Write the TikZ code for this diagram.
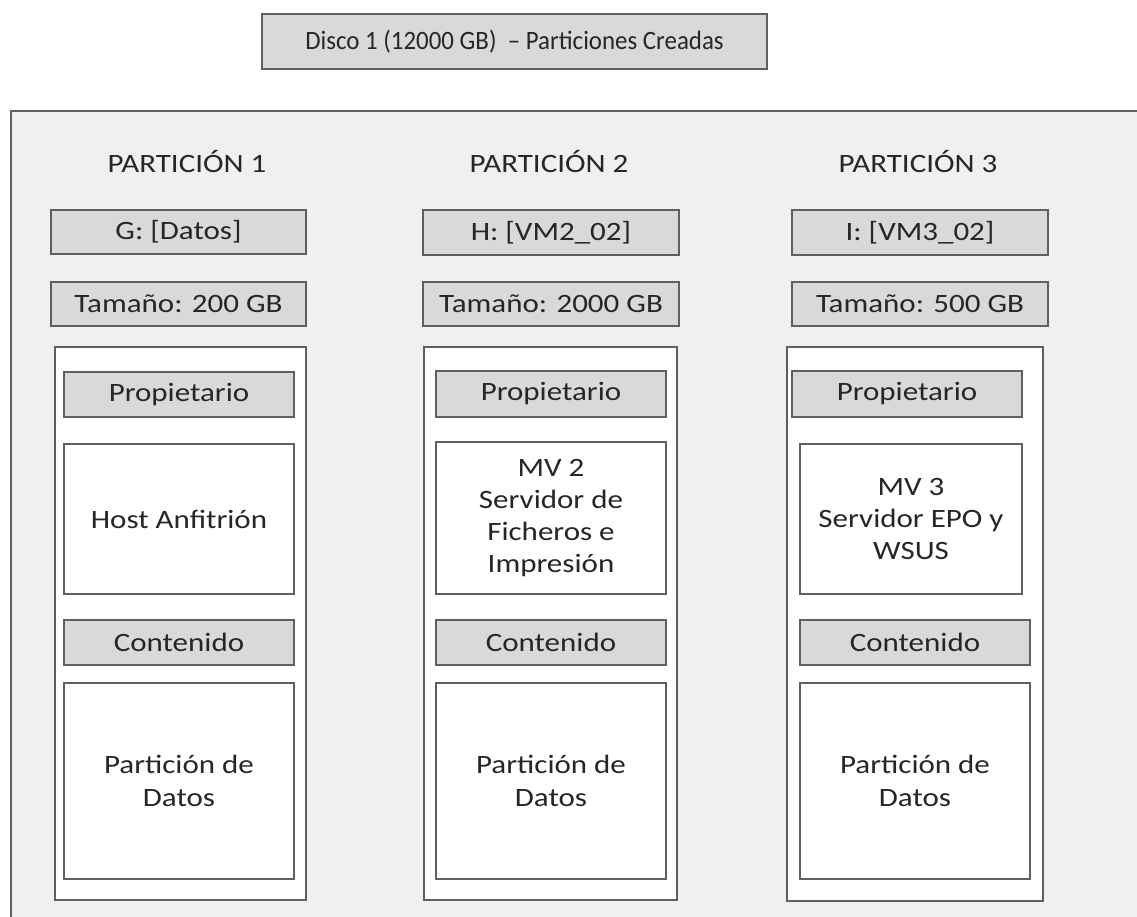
\documentclass[tikz,border=0pt]{standalone}
\usepackage{fontspec}
\setmainfont{Carlito}[FakeStretch=1.17]
\newfontfamily\titlefont{Carlito}[FakeStretch=0.94]
\definecolor{bg}{HTML}{F0F0F0}
\definecolor{gfill}{HTML}{D9D9D9}
\definecolor{edge}{HTML}{5F5F5F}
\definecolor{txt}{HTML}{262626}
\tikzset{
  base/.style={draw=edge, line width=1.4pt, inner sep=0pt, align=center, text=txt,
    font=\fontsize{26.5}{32.3}\selectfont},
  graybox/.style={base, fill=gfill},
  whitebox/.style={base, fill=white},
  label/.style={text=txt, font=\fontsize{26.5}{32.3}\selectfont, inner sep=0pt},
  titlebox/.style={graybox, font=\titlefont\fontsize{26.5}{32}\selectfont},
}
\newcommand{\bx}[7]{\node[#2, minimum width={#5-#3}, minimum height={#6-#4}] (#1) at ({(#3+#5)/2},{(#4+#6)/2}) {#7};}
\begin{document}
\begin{tikzpicture}[x=1pt, y=-1pt]
\useasboundingbox (0,0) rectangle (1137,917);
% outer frame
\fill[bg] (11,111) rectangle (1137,917);
\coordinate (ftl) at (11,111);
\coordinate (ftr) at (1137,111);
\coordinate (fbl) at (11,917);
\draw[edge, line width=1.4pt] (ftr) -- (ftl) -- (fbl);
% title
\bx{title}{titlebox}{262}{14}{767}{69}{Disco 1 (12000 GB)\ \ – Particiones Creadas}
% column 1
\node[label] (p1) at (187,162) {PARTICIÓN 1};
\bx{g1}{graybox}{51}{210}{306}{254}{G: [Datos]}
\bx{t1}{graybox}{51}{282}{306}{326}{Tamaño: 200 GB}
\bx{c1}{whitebox}{55}{347}{306}{900}{}
\bx{o1}{graybox}{64}{372}{294}{417}{Propietario}
\bx{h1}{whitebox}{64}{444}{294}{594}{Host Anfitrión}
\bx{n1}{graybox}{64}{620}{294}{665}{Contenido}
\bx{d1}{whitebox}{64}{683}{294}{879}{Partición de\\Datos}
% column 2
\node[label] (p2) at (549,162) {PARTICIÓN 2};
\bx{g2}{graybox}{423}{210}{679}{255}{H: [VM2\_02]}
\bx{t2}{graybox}{423}{282}{679}{326}{Tamaño: 2000 GB}
\bx{c2}{whitebox}{424}{347}{677}{900}{}
\bx{o2}{graybox}{436}{371}{666}{417}{Propietario}
\bx{h2}{whitebox}{436}{442}{666}{594}{MV 2\\Servidor de\\Ficheros e\\Impresión}
\bx{n2}{graybox}{436}{620}{666}{665}{Contenido}
\bx{d2}{whitebox}{436}{683}{666}{879}{Partición de\\Datos}
% column 3
\node[label] (p3) at (918,162) {PARTICIÓN 3};
\bx{g3}{graybox}{792}{210}{1048}{255}{I: [VM3\_02]}
\bx{t3}{graybox}{792}{282}{1048}{326}{Tamaño: 500 GB}
\bx{c3}{whitebox}{787}{347}{1043}{901}{}
\bx{o3}{graybox}{792}{371}{1022}{417}{Propietario}
\bx{h3}{whitebox}{800}{444}{1022}{594}{MV 3\\Servidor EPO y\\WSUS}
\bx{n3}{graybox}{800}{620}{1030}{665}{Contenido}
\bx{d3}{whitebox}{800}{683}{1030}{879}{Partición de\\Datos}
\end{tikzpicture}
\end{document}
